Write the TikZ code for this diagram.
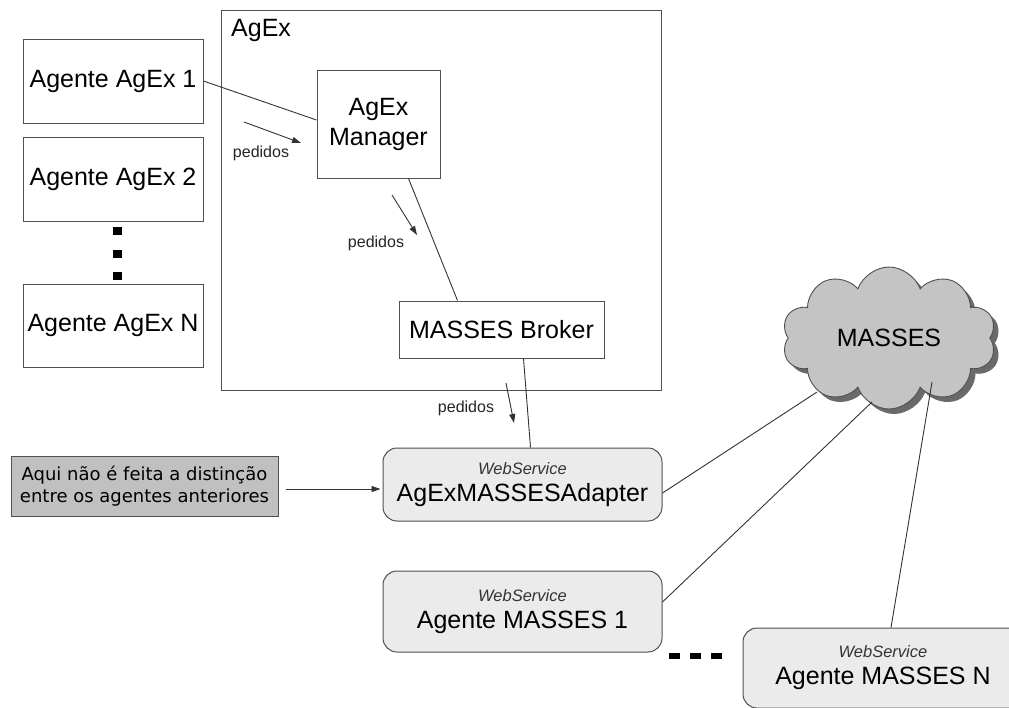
\documentclass[tikz,border=0pt]{standalone}
\usepackage{fontspec}
\setmainfont{Liberation Sans}
\newfontfamily\notefont{DejaVu Sans}
\usetikzlibrary{shapes.symbols,arrows.meta,shadows,calc}
\definecolor{edge}{HTML}{505050}
\definecolor{wsfill}{HTML}{EBEBEB}
\definecolor{notefill}{HTML}{C0C0C0}
\definecolor{cloudfill}{HTML}{C4C4C4}
\definecolor{cloudshadow}{HTML}{6A6A6A}
\tikzset{
 agbox/.style={draw=edge, fill=white, line width=1pt, inner sep=0pt, font=\fontsize{25}{30}\selectfont, align=center},
 wsbox/.style={draw=edge, fill=wsfill, rounded corners=14pt, line width=1pt, inner sep=0pt, font=\fontsize{25}{27}\selectfont, align=center},
 conn/.style={draw=black!80, line width=0.9pt},
 req/.style={conn, -{Triangle[length=9pt,width=6pt]}},
 lbl/.style={font=\fontsize{16}{18}\selectfont, text=black!85, inner sep=0pt},
 vdot/.style={fill=black, inner sep=0pt, minimum width=9pt, minimum height=8pt},
 hdot/.style={fill=black, inner sep=0pt, minimum width=11pt, minimum height=6pt},
}
\begin{document}
\begin{tikzpicture}[x=1pt,y=-1pt]
\useasboundingbox (0,0) rectangle (1009,707);
\clip (0,0) rectangle (1009,707);
\fill[white] (0,0) rectangle (1009,707);

% AgEx container
\node[agbox, minimum width=440pt, minimum height=380pt] (agex) at (441,200) {};
\node[anchor=base west, font=\fontsize{25}{30}\selectfont, inner sep=0pt] (agexlbl) at (231,36) {AgEx};

% AgEx agents
\node[agbox, minimum width=180pt, minimum height=84pt] (a1) at (113,81) {Agente AgEx 1};
\node[agbox, minimum width=180pt, minimum height=84pt] (a2) at (113,179) {Agente AgEx 2};
\node[agbox, minimum width=180pt, minimum height=83pt] (an) at (113,325.5) {Agente AgEx N};
\node[vdot] (d1) at (117.5,231) {};
\node[vdot] (d2) at (117.5,254) {};
\node[vdot] (d3) at (117.5,275.5) {};

% inner boxes
\node[agbox, minimum width=123pt, minimum height=108pt] (mgr) at (378.5,124) {AgEx\\Manager};
\node[agbox, minimum width=205pt, minimum height=57pt] (broker) at (501.5,329.5) {MASSES Broker};

% web services
\node[wsbox, minimum width=279pt, minimum height=73pt] (adapter) at (522.5,484.5)
  {{\fontsize{16.5}{18}\selectfont\itshape\color{black!80}WebService}\\AgExMASSESAdapter};
\node[wsbox, minimum width=279pt, minimum height=81pt] (m1) at (522.5,611.5)
  {{\fontsize{16.5}{18}\selectfont\itshape\color{black!80}WebService}\\Agente MASSES 1};
\node[wsbox, minimum width=280pt, minimum height=80pt] (mn) at (883,668)
  {{\fontsize{16.5}{18}\selectfont\itshape\color{black!80}WebService}\\Agente MASSES N};
\node[hdot] (h1) at (674.5,656) {};
\node[hdot] (h2) at (695,656) {};
\node[hdot] (h3) at (716.5,656) {};

% note
\node[draw=edge, fill=notefill, line width=1pt, minimum width=267pt, minimum height=60pt, inner sep=0pt,
      align=center, font=\notefont\fontsize{18}{22}\selectfont] (note) at (144.5,486)
  {Aqui não é feita a distinção\\entre os agentes anteriores};

% cloud
\node[cloud, cloud puffs=10, cloud puff arc=140, cloud ignores aspect, minimum width=214pt, minimum height=142pt,
      draw=edge, fill=cloudfill, line width=0.9pt,
      drop shadow={shadow xshift=5pt, shadow yshift=-5pt, fill=cloudshadow, opacity=1},
      font=\fontsize{25}{30}\selectfont] (masses) at (889,338) {MASSES};

% connectors
\coordinate (c1) at (817,392);
\coordinate (c2) at (872,402);
\coordinate (c3) at (932,382);
\draw[conn] (a1.east) -- ($(mgr.west)+(0,-4)$);
\draw[conn] ($(mgr.south)+(30,0)$) -- ($(broker.north)+(-44,0)$);
\draw[conn] ($(broker.south)+(22,0)$) -- ($(adapter.north)+(8,0)$);
\draw[conn] ($(adapter.east)+(0,8.5)$) -- (c1);
\draw[conn] ($(m1.east)+(0,-9.5)$) -- (c2);
\draw[conn] (c3) -- ($(mn.north)+(8,0)$);

% request arrows
\coordinate (r1s) at (244,122); \coordinate (r1e) at (301,143);
\coordinate (r2s) at (392,195); \coordinate (r2e) at (417,235);
\coordinate (r3s) at (506,383); \coordinate (r3e) at (514,423);
\draw[req] (r1s) -- (r1e);
\draw[req] (r2s) -- (r2e);
\draw[req] (r3s) -- (r3e);
\node[lbl] (p1) at (261,153) {pedidos};
\node[lbl] (p2) at (376,243) {pedidos};
\node[lbl] (p3) at (466,408) {pedidos};

% note arrow
\coordinate (ns) at ($(note.east)+(7,3)$);
\draw[req, shorten >=2pt] (ns) -- (ns -| adapter.west);
\end{tikzpicture}
\end{document}
